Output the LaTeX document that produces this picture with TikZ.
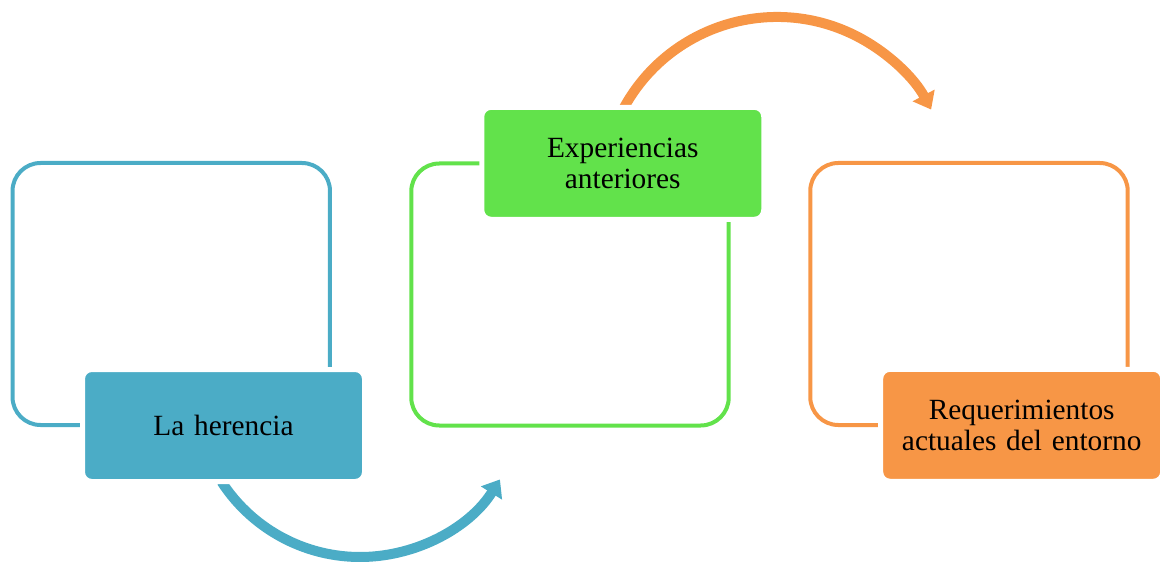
\documentclass[tikz,border=0pt]{standalone}
\usepackage{fontspec}
\setmainfont{Liberation Serif}
\usetikzlibrary{arrows.meta}
\definecolor{cblue}{HTML}{4BACC6}
\definecolor{cgreen}{HTML}{62E24B}
\definecolor{corange}{HTML}{F79646}
\begin{document}
\begin{tikzpicture}[x=0.75pt,y=-0.75pt,
  frame/.style={draw=#1, line width=3pt, rounded corners=21pt, minimum width=238.1pt, minimum height=196.5pt, inner sep=0pt},
  lbox/.style={fill=#1, draw=white, line width=3.75pt, rounded corners=7pt, minimum width=211.5pt, minimum height=84pt, text width=200pt, align=center, font=\fontsize{22}{23}\selectfont, inner sep=0pt, text=black},
  bendarrow/.style={draw=#1, line width=7.5pt, -{Triangle[length=12pt,width=18pt]}}]
\useasboundingbox (0,0) rectangle (1165,563);
% curved arrows
\coordinate (barcstart) at ({360+165*cos(213)}, {392-165*sin(213)});
\draw[bendarrow=cblue] (barcstart) arc[start angle=213, end angle=328, radius=123.75pt];
\coordinate (oarcstart) at ({777+174.5*cos(152)}, {191.5-174.5*sin(152)});
\draw[bendarrow=corange] (oarcstart) arc[start angle=152, end angle=28, radius=130.9pt];
% outline frames
\node[frame=cblue] (f1) at (171.25,294) {};
\node[frame=cgreen] (f2) at (570,294.5) {};
\node[frame=corange] (f3) at (969,294) {};
% filled labels
\node[lbox=cblue] (b1) at (223.5,425.5) {La herencia};
\node[lbox=cgreen] (b2) at (622.75,163.3) {Experiencias\\anteriores};
\node[lbox=corange] (b3) at (1021.7,425.3) {Requerimientos\\actuales del entorno};
\end{tikzpicture}
\end{document}
